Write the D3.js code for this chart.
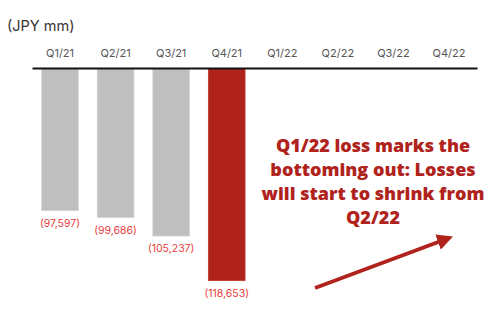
<!DOCTYPE html>
<html><head><meta charset="utf-8">
<script src="https://cdn.jsdelivr.net/npm/d3@7"></script>
<style>body{margin:0;background:#fff}svg{display:block}</style>
</head><body><svg id="c" width="500" height="319"></svg>
<script>
const categories = ["Q1/21","Q2/21","Q3/21","Q4/21","Q1/22","Q2/22","Q3/22","Q4/22"];
const lossValues = [97597, 99686, 105237, 118653, null, null, null, null];
const valueLabels = ["(97,597)","(99,686)","(105,237)","(118,653)"];
const highlight = ["Q4/21"];
const unitLabel = "(JPY mm)";
const noteLines = ["Q1/22 loss marks the","bottoming out: Losses","will start to shrink from","Q2/22"];

const svg = d3.select("#c");
const x = d3.scaleBand().domain(categories).range([32, 477]).paddingInner(0.34).paddingOuter(0.174);
const y = d3.scaleLinear().domain([55000, 120000]).range([69, 285.1]);

svg.append("text").attr("x", 7).attr("y", 31).attr("font-family","Inter, sans-serif")
  .attr("font-size", 14.5).attr("fill", "#333").text(unitLabel);

const data = categories.map((c,i)=>({c, v: lossValues[i], label: valueLabels[i]}));

svg.selectAll("rect.bar").data(data.filter(d=>d.v!=null)).join("rect")
  .attr("class","bar")
  .attr("x", d=>x(d.c)).attr("width", x.bandwidth())
  .attr("y", y(55000)).attr("height", d=>y(d.v)-y(55000))
  .attr("fill", d=>highlight.includes(d.c) ? "#b0231c" : "#bfbfbf")
  .attr("stroke", d=>highlight.includes(d.c) ? "#c0392b" : "#d4d4d4").attr("stroke-width", 0.8);

svg.selectAll("text.val").data(data.filter(d=>d.v!=null)).join("text")
  .attr("class","val")
  .attr("x", d=>x(d.c)+x.bandwidth()/2).attr("y", d=>y(d.v)+16)
  .attr("text-anchor","middle").attr("font-family","Inter, sans-serif")
  .attr("font-size", 10.5).attr("fill", "#e8403a").text(d=>d.label);

const axis = d3.axisTop(x).tickSize(0).tickPadding(0);
const g = svg.append("g").attr("transform","translate(0,68)").call(axis);
g.select(".domain").attr("stroke","#111").attr("stroke-width",2);
g.selectAll(".tick text").attr("y",-11).attr("font-family","Inter, sans-serif")
  .attr("font-size",11).attr("fill","#555");

const note = svg.append("text").attr("text-anchor","middle")
  .attr("font-family","'Open Sans', sans-serif").attr("font-weight",800)
  .attr("font-size",18).attr("fill","#b0231c");
noteLines.forEach((t,i)=>note.append("tspan").attr("x",373).attr("y",152+i*24).text(t));

const defs = svg.append("defs");
defs.append("marker").attr("id","ah").attr("viewBox","0 0 10 10").attr("refX",2).attr("refY",5)
  .attr("markerWidth",4).attr("markerHeight",4).attr("orient","auto")
  .append("path").attr("d","M0,0L10,5L0,10z").attr("fill","#b0231c");
svg.append("line").attr("x1",315).attr("y1",288).attr("x2",441).attr("y2",241)
  .attr("stroke","#b0231c").attr("stroke-width",4).attr("marker-end","url(#ah)");
</script></body></html>
